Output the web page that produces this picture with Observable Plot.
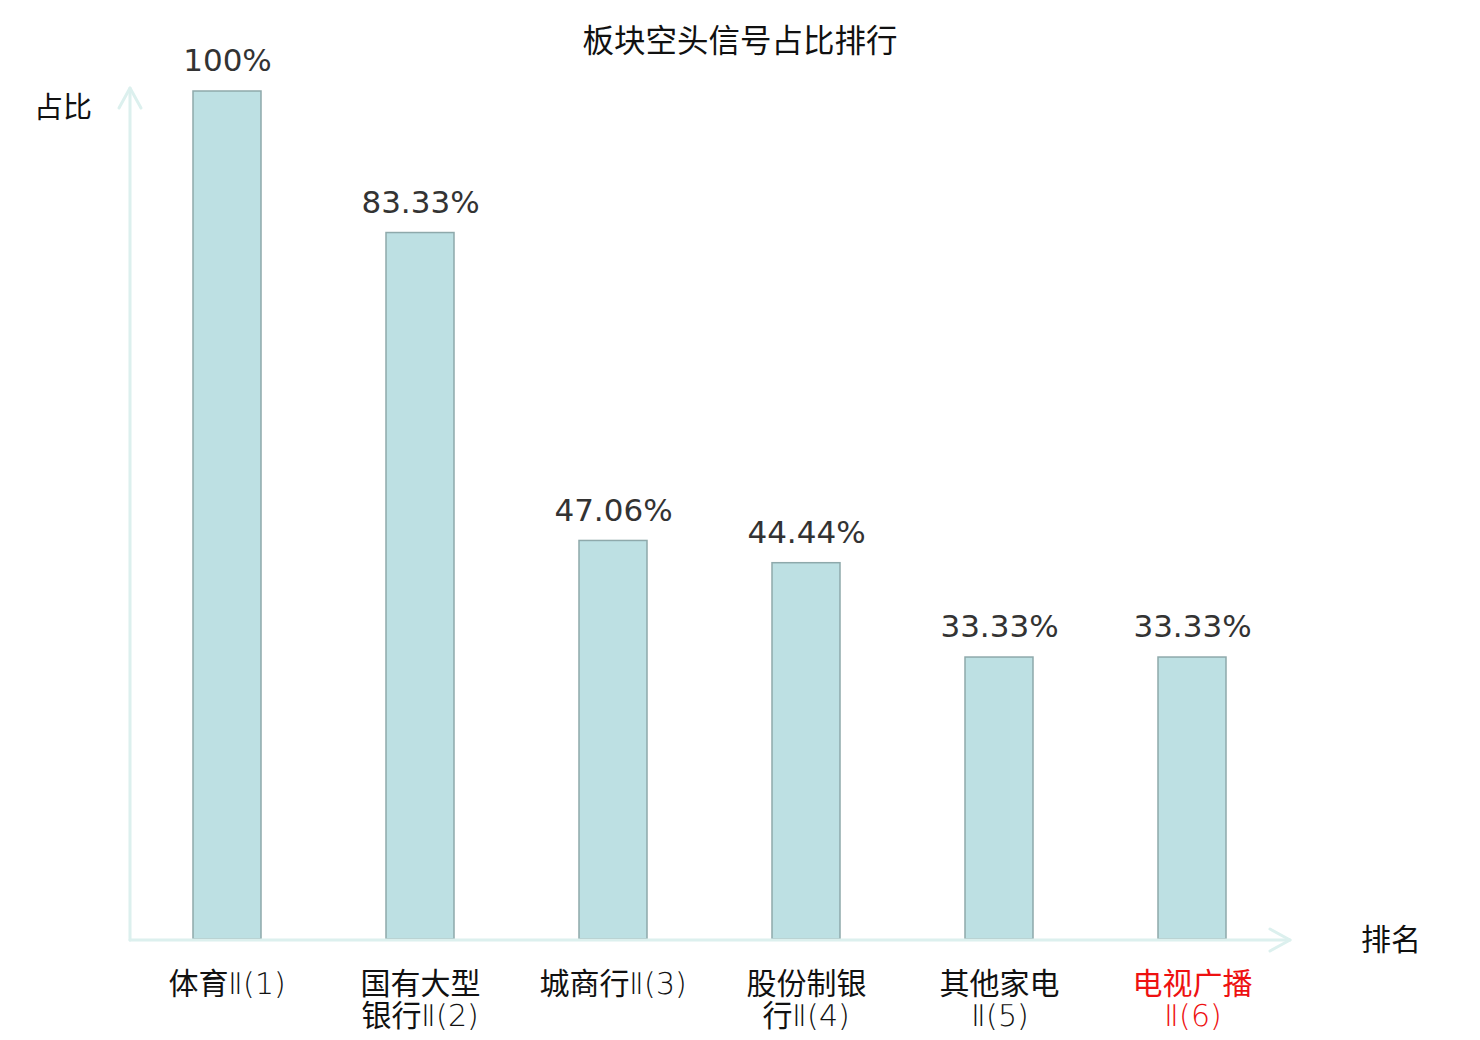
<!DOCTYPE html>
<html><head><meta charset="utf-8">
<script src="https://cdn.jsdelivr.net/npm/d3@7"></script>
<script src="https://cdn.jsdelivr.net/npm/@observablehq/plot@0.6"></script>
<style>
@font-face {
  font-family: "LatinLight";
  src: local("DejaVu Sans ExtraLight"), local("DejaVuSans-ExtraLight");
  unicode-range: U+0000-00FF, U+2150-218F;
}
html,body{margin:0;padding:0;background:#fff;}
#chart{position:relative;width:1480px;height:1040px;}
</style>
</head><body><div id="chart"></div>
<script>
const categories = ["体育Ⅱ(1)", "国有大型银行Ⅱ(2)", "城商行Ⅱ(3)", "股份制银行Ⅱ(4)", "其他家电Ⅱ(5)", "电视广播Ⅱ(6)"];
const labelLine1 = ["体育Ⅱ(1)", "国有大型", "城商行Ⅱ(3)", "股份制银", "其他家电", "电视广播"];
const labelLine2 = ["", "银行Ⅱ(2)", "", "行Ⅱ(4)", "Ⅱ(5)", "Ⅱ(6)"];
const values = [100, 83.33, 47.06, 44.44, 33.33, 33.33];
const valueLabels = ["100%", "83.33%", "47.06%", "44.44%", "33.33%", "33.33%"];
const highlighted = [false, false, false, false, false, true];

const data = categories.map((c, i) => ({
  cat: c, v: values[i], lab: valueLabels[i], l1: labelLine1[i], l2: labelLine2[i], hi: highlighted[i]
}));

const FONT = "'DejaVu Sans', 'Noto Sans CJK SC', sans-serif";
const CJK = "'Noto Sans CJK SC', 'DejaVu Sans', sans-serif";
const LABEL = "'LatinLight', 'Noto Sans CJK SC', 'DejaVu Sans', sans-serif";
const axisColor = "#dcf0ee";

function draw() {
const chart = Plot.plot({
  width: 1480,
  height: 1040,
  marginLeft: 129,
  marginRight: 190,
  marginTop: 91,
  marginBottom: 100,
  style: {fontFamily: FONT, background: "#fff", overflow: "visible"},
  x: {domain: categories, paddingInner: 0.65, paddingOuter: 0.325, axis: null},
  y: {domain: [0, 100], axis: null},
  marks: [
    Plot.barY(data, {x: "cat", y: "v", fill: "#bde0e3", stroke: "#8ea9ab", strokeWidth: 1.5, insetBottom: 1}),
    Plot.text(data, {x: "cat", y: "v", text: "lab", dy: -30, fontSize: 31, fill: "#333", lineAnchor: "middle"}),
    Plot.text(data, {x: "cat", y: 0, text: "l1", dy: 44, fontSize: 30, lineAnchor: "middle", fontFamily: LABEL,
      fill: d => d.hi ? "#ee1111" : "#111"}),
    Plot.text(data, {x: "cat", y: 0, text: "l2", dy: 76, fontSize: 30, lineAnchor: "middle", fontFamily: LABEL,
      fill: d => d.hi ? "#ee1111" : "#111"})
  ]
});

const svg = d3.select(chart);
const xs = chart.scale("x"), ys = chart.scale("y");
const x0 = xs.range[0] + 1, x1 = xs.range[1];
const y0 = ys.apply(0), yTop = ys.apply(100) - 3;

const g = svg.append("g").attr("fill", "none").attr("stroke", axisColor).attr("stroke-width", 3)
  .attr("stroke-linecap", "round").attr("stroke-linejoin", "round");
g.append("path").attr("d", `M${x0},${y0}V${yTop}`);
g.append("path").attr("d", `M${x0 - 11},${yTop + 20}L${x0},${yTop}L${x0 + 11},${yTop + 20}`);
g.append("path").attr("d", `M${x0},${y0}H${x1}`);
g.append("path").attr("d", `M${x1 - 20},${y0 - 11}L${x1},${y0}L${x1 - 20},${y0 + 11}`);

svg.append("text").text("占比").attr("x", 63).attr("y", yTop + 22).attr("text-anchor", "middle")
  .attr("dominant-baseline", "middle").attr("font-size", 29).attr("font-family", CJK).attr("fill", "#111");
svg.append("text").text("排名").attr("x", x1 + 101).attr("y", y0 + 2).attr("text-anchor", "middle")
  .attr("dominant-baseline", "middle").attr("font-size", 30).attr("font-family", CJK).attr("fill", "#111");
svg.append("text").text("板块空头信号占比排行").attr("x", 740).attr("y", 43).attr("text-anchor", "middle")
  .attr("dominant-baseline", "middle").attr("font-size", 31.5).attr("font-family", CJK).attr("fill", "#111");

document.getElementById("chart").appendChild(chart);
}
if (document.fonts && document.fonts.load) {
  document.fonts.load("30px LatinLight", "Ⅱ(1)").then(draw, draw);
} else draw();
</script>
</body></html>
